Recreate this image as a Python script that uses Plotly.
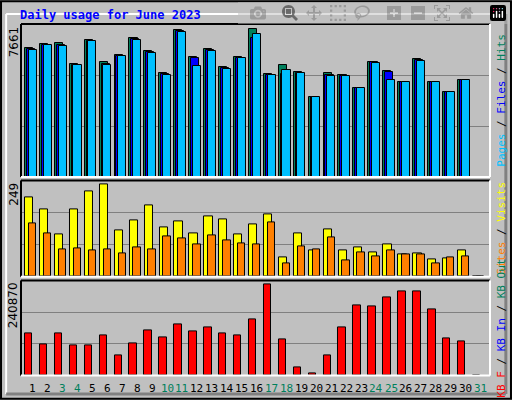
import plotly.graph_objects as go

days = list(range(1, 32))
day_labels = [str(d) for d in days]
weekend = [3, 4, 10, 11, 17, 18, 24, 25, 31]

hits = [6676, 6899, 6951, 5846, 7091, 5965, 6313, 7194, 6520, 5394, 7609, 6209, 6624, 5690, 6209,
        7661, 5327, 5794, 5431, 4134, 5394, 5275, 4601, 5965, 5498, 4912, 6105, 4912, 4393, 5016, 0]
files = [6620, 6860, 6860, 5820, 7060, 5880, 6290, 7140, 6470, 5330, 7560, 6157, 6570, 5640, 6180,
         7225, 5300, 5343, 5400, 4134, 5300, 5250, 4601, 5940, 5431, 4912, 6050, 4912, 4393, 5016, 0]
pages = [6572, 6831, 6779, 5794, 7039, 5809, 6261, 7091, 6416, 5275, 7506, 5742, 6520, 5586, 6157,
         7402, 5275, 5534, 5379, 4134, 5223, 5223, 4601, 5913, 5016, 4912, 6001, 4912, 4393, 5016, 0]
visits = [214, 182, 114, 182, 230, 249, 125, 152, 192, 133, 149, 117, 163, 155, 114,
          141, 168, 52, 117, 71, 128, 71, 79, 66, 87, 60, 63, 47, 50, 71, 0]
sites = [144, 117, 74, 77, 71, 74, 63, 79, 74, 109, 103, 87, 112, 98, 90,
         87, 147, 36, 82, 74, 106, 44, 66, 55, 71, 60, 60, 36, 52, 55, 0]
kbytes = [111724, 82739, 111724, 80104, 80104, 106454, 53754, 85374, 119629, 101184, 135439, 116994,
          127534, 111724, 106454, 148614, 240870, 95914, 22134, 6324, 53754, 127534, 185504, 182869,
          206584, 222394, 222394, 174964, 98549, 90644, 0]

BG = "#c0c0c0"
MONO = "DejaVu Sans Mono"
x_rng = [0.216, 31.63]
x_dom = [0.041, 0.957]
top_max, mid_max, bot_max = 7936, 260, 251400

fig = go.Figure()

def bars(vals, off, width, color, xa, ya):
    fig.add_trace(go.Bar(x=[d + off for d in days], y=vals, width=width, marker_color=color,
                         marker_line=dict(color="black", width=1), xaxis=xa, yaxis=ya,
                         showlegend=False, hoverinfo="skip"))

bars(hits, -0.25, 0.54, "#00805c", "x", "y")
bars(files, -0.12, 0.54, "#0000ff", "x", "y")
bars(pages, 0.0, 0.54, "#00c0ff", "x", "y")
bars(visits, -0.23, 0.55, "#ffff00", "x2", "y2")
bars(sites, 0.0, 0.5, "#ff8000", "x2", "y2")
bars(kbytes, -0.27, 0.5, "#ff0000", "x3", "y3")

def yax(dom, top, xa):
    return dict(domain=dom, range=[0, top], tickvals=[top / 3, 2 * top / 3], showticklabels=False,
                gridcolor="#808080", gridwidth=1, zeroline=False, fixedrange=True, anchor=xa)

def xax(anchor):
    return dict(domain=x_dom, range=x_rng, showticklabels=False, showgrid=False, zeroline=False, anchor=anchor)

fig.update_layout(
    width=512, height=400, margin=dict(l=0, r=0, t=0, b=0),
    paper_bgcolor=BG, plot_bgcolor=BG, barmode="overlay", bargap=0,
    font=dict(family=MONO, size=11, color="black"),
    xaxis=xax("y"), xaxis2=xax("y2"), xaxis3=xax("y3"),
    yaxis=yax([0.5575, 0.94], top_max, "x"),
    yaxis2=yax([0.308, 0.549], mid_max, "x2"),
    yaxis3=yax([0.061, 0.299], bot_max, "x3"),
)

# panel frames: dark top/left, white bottom/right
for y0, y1 in [(0.5575, 0.94), (0.308, 0.549), (0.061, 0.299)]:
    x0, x1 = x_dom
    fig.add_shape(type="line", xref="paper", yref="paper", x0=x0, x1=x1, y0=y1, y1=y1, line=dict(color="black", width=2))
    fig.add_shape(type="line", xref="paper", yref="paper", x0=x0, x1=x0, y0=y0, y1=y1, line=dict(color="black", width=2))
    fig.add_shape(type="line", xref="paper", yref="paper", x0=x0, x1=x1, y0=y0, y1=y0, line=dict(color="white", width=2))
    fig.add_shape(type="line", xref="paper", yref="paper", x0=x1, x1=x1, y0=y0, y1=y1, line=dict(color="white", width=2))

# outer bevel
fig.add_shape(type="rect", xref="paper", yref="paper", x0=0.002, x1=0.998, y0=0.003, y1=0.997,
              line=dict(color="black", width=2))
fig.add_shape(type="line", xref="paper", yref="paper", x0=0.012, x1=0.988, y0=0.965, y1=0.965, line=dict(color="white", width=2))
fig.add_shape(type="line", xref="paper", yref="paper", x0=0.012, x1=0.012, y0=0.015, y1=0.965, line=dict(color="white", width=2))
fig.add_shape(type="line", xref="paper", yref="paper", x0=0.012, x1=0.988, y0=0.015, y1=0.015, line=dict(color="#808080", width=3))
fig.add_shape(type="line", xref="paper", yref="paper", x0=0.988, x1=0.988, y0=0.015, y1=0.965, line=dict(color="#808080", width=3))

fig.add_annotation(text="<b>Daily usage for June 2023</b>", xref="paper", yref="paper", x=0.035, y=0.962,
                   xanchor="left", yanchor="middle", showarrow=False, font=dict(color="#0000ff", size=12, family=MONO))

for txt, yp in [("7661", 0.94), ("249", 0.549), ("240870", 0.299)]:
    fig.add_annotation(text=txt, xref="paper", yref="paper", x=0.027, y=yp, textangle=-90,
                       xanchor="center", yanchor="top", showarrow=False, font=dict(size=12, family="DejaVu Sans"))

for d, lab in zip(days, day_labels):
    fig.add_annotation(text=lab, xref="x3", yref="paper", x=d, y=0.03, showarrow=False,
                       yanchor="middle", font=dict(size=11, family=MONO,
                       color="#00805c" if d in weekend else "black"))

right = [
    ('<span style="color:#00c0ff">Pages</span> / <span style="color:#0000ff">Files</span> / '
     '<span style="color:#00805c">Hits</span>', 0.75),
    ('<span style="color:#ff8000">Sites</span> / <span style="color:#ffff00">Visits</span>', 0.43),
    ('<span style="color:#ff0000">KB F</span> / <span style="color:#0000ff">KB In</span> / '
     '<span style="color:#00805c">KB Out</span>', 0.18),
]
for txt, yp in right:
    fig.add_annotation(text=txt, xref="paper", yref="paper", x=0.978, y=yp, textangle=-90,
                       xanchor="center", yanchor="middle", showarrow=False,
                       font=dict(size=11, family=MONO, color="black"))

fig.write_html("out.html", post_script="document.body.style.margin='0';document.body.style.overflow='hidden';")
